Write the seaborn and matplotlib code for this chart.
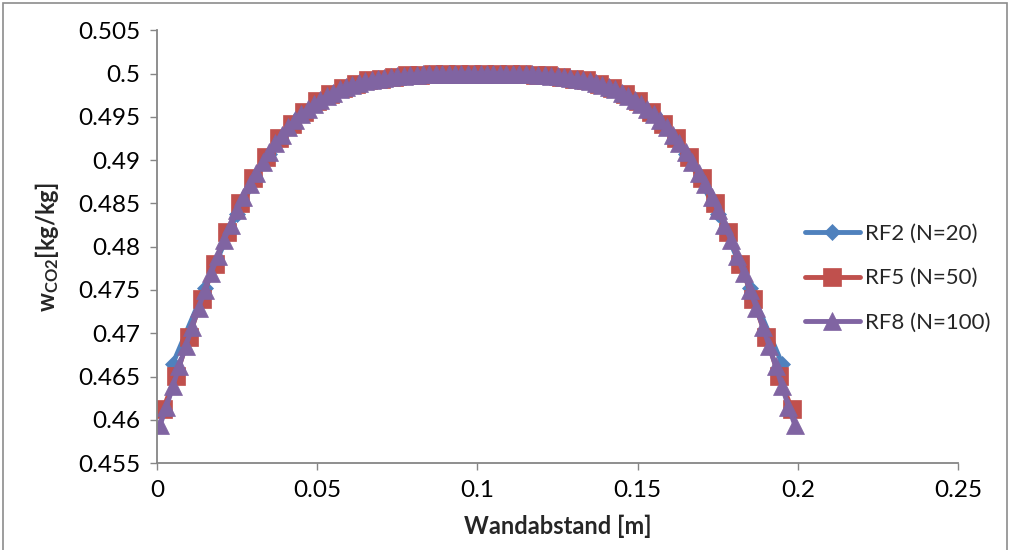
import matplotlib.pyplot as plt
import seaborn as sns
from matplotlib.patches import Rectangle

# Data: CO2 mass fraction across the wall gap, three mesh refinements

x_rf2 = [0.005, 0.015, 0.025, 0.035, 0.045, 0.055, 0.065, 0.075, 0.085, 0.095,
         0.105, 0.115, 0.125, 0.135, 0.145, 0.155, 0.165, 0.175, 0.185, 0.195]
w_rf2 = [0.4665, 0.4752, 0.4838, 0.4907, 0.4953, 0.4978, 0.4991, 0.4997, 0.4999, 0.5000,
         0.5000, 0.4999, 0.4997, 0.4991, 0.4978, 0.4953, 0.4907, 0.4838, 0.4752, 0.4665]

x_rf5 = [0.002, 0.006, 0.010, 0.014, 0.018, 0.022, 0.026, 0.030, 0.034, 0.038,
         0.042, 0.046, 0.050, 0.054, 0.058, 0.062, 0.066, 0.070, 0.074, 0.078,
         0.082, 0.086, 0.090, 0.094, 0.098, 0.102, 0.106, 0.110, 0.114, 0.118,
         0.122, 0.126, 0.130, 0.134, 0.138, 0.142, 0.146, 0.150, 0.154, 0.158,
         0.162, 0.166, 0.170, 0.174, 0.178, 0.182, 0.186, 0.190, 0.194, 0.198]
w_rf5 = [0.4613, 0.4651, 0.4696, 0.4739, 0.4780, 0.4817, 0.4850, 0.4879, 0.4904, 0.4925,
         0.4942, 0.4956, 0.4968, 0.4976, 0.4983, 0.4988, 0.4992, 0.4994, 0.4996, 0.4998,
         0.4998, 0.4999, 0.4999, 0.5000, 0.5000, 0.5000, 0.5000, 0.4999, 0.4999, 0.4998,
         0.4998, 0.4996, 0.4994, 0.4992, 0.4988, 0.4983, 0.4976, 0.4968, 0.4956, 0.4942,
         0.4925, 0.4904, 0.4879, 0.4850, 0.4817, 0.4780, 0.4739, 0.4696, 0.4651, 0.4613]

x_rf8 = [0.001, 0.003, 0.005, 0.007, 0.009, 0.011, 0.013, 0.015, 0.017, 0.019,
         0.021, 0.023, 0.025, 0.027, 0.029, 0.031, 0.033, 0.035, 0.037, 0.039,
         0.041, 0.043, 0.045, 0.047, 0.049, 0.051, 0.053, 0.055, 0.057, 0.059,
         0.061, 0.063, 0.065, 0.067, 0.069, 0.071, 0.073, 0.075, 0.077, 0.079,
         0.081, 0.083, 0.085, 0.087, 0.089, 0.091, 0.093, 0.095, 0.097, 0.099,
         0.101, 0.103, 0.105, 0.107, 0.109, 0.111, 0.113, 0.115, 0.117, 0.119,
         0.121, 0.123, 0.125, 0.127, 0.129, 0.131, 0.133, 0.135, 0.137, 0.139,
         0.141, 0.143, 0.145, 0.147, 0.149, 0.151, 0.153, 0.155, 0.157, 0.159,
         0.161, 0.163, 0.165, 0.167, 0.169, 0.171, 0.173, 0.175, 0.177, 0.179,
         0.181, 0.183, 0.185, 0.187, 0.189, 0.191, 0.193, 0.195, 0.197, 0.199]
w_rf8 = [0.4594, 0.4615, 0.4639, 0.4662, 0.4685, 0.4707, 0.4729, 0.4750, 0.4770, 0.4789,
         0.4808, 0.4825, 0.4842, 0.4857, 0.4872, 0.4885, 0.4898, 0.4909, 0.4920, 0.4929,
         0.4938, 0.4946, 0.4953, 0.4959, 0.4965, 0.4970, 0.4974, 0.4978, 0.4982, 0.4984,
         0.4987, 0.4989, 0.4991, 0.4992, 0.4994, 0.4995, 0.4996, 0.4997, 0.4997, 0.4998,
         0.4998, 0.4999, 0.4999, 0.4999, 0.4999, 0.4999, 0.5000, 0.5000, 0.5000, 0.5000,
         0.5000, 0.5000, 0.5000, 0.5000, 0.4999, 0.4999, 0.4999, 0.4999, 0.4999, 0.4998,
         0.4998, 0.4997, 0.4997, 0.4996, 0.4995, 0.4994, 0.4992, 0.4991, 0.4989, 0.4987,
         0.4984, 0.4982, 0.4978, 0.4974, 0.4970, 0.4965, 0.4959, 0.4953, 0.4946, 0.4938,
         0.4929, 0.4920, 0.4909, 0.4898, 0.4885, 0.4872, 0.4857, 0.4842, 0.4825, 0.4808,
         0.4789, 0.4770, 0.4750, 0.4729, 0.4707, 0.4685, 0.4662, 0.4639, 0.4615, 0.4594]

labels = ['RF2 (N=20)', 'RF5 (N=50)', 'RF8 (N=100)']
colors = ['#4F81BD', '#C0504D', '#8064A2']

x_ticks = [0, 0.05, 0.1, 0.15, 0.2, 0.25]
x_ticklabels = ['0', '0.05', '0.1', '0.15', '0.2', '0.25']
y_ticks = [0.455, 0.46, 0.465, 0.47, 0.475, 0.48, 0.485, 0.49, 0.495, 0.5, 0.505]
y_ticklabels = ['0.455', '0.46', '0.465', '0.47', '0.475', '0.48', '0.485', '0.49', '0.495', '0.5', '0.505']

# Style
sns.set_style('white')
plt.rcParams['font.family'] = ['Lato', 'DejaVu Sans']
plt.rcParams['mathtext.default'] = 'regular'

fig = plt.figure(figsize=(10.12, 5.5), dpi=100)
ax = fig.add_axes([0.155, 0.158, 0.792, 0.787])

# marker shape and size per series
series = [(x_rf2, w_rf2, 'D', 8), (x_rf5, w_rf5, 's', 12.5), (x_rf8, w_rf8, '^', 13)]
for (xs, ys, mk, ms), lab, col in zip(series, labels, colors):
    sns.lineplot(x=xs, y=ys, ax=ax, color=col, linewidth=3.5, marker=mk, markersize=ms,
                 markeredgecolor=col, markeredgewidth=0.5, label=lab, sort=False)

# Axes
ax.set_xlim(0, 0.25)
ax.set_ylim(0.455, 0.505)
ax.set_xticks(x_ticks)
ax.set_xticklabels(x_ticklabels)
ax.set_yticks(y_ticks)
ax.set_yticklabels(y_ticklabels)
ax.tick_params(axis='both', which='both', direction='out', length=5, width=1,
               color='#868686', labelsize=17.5, labelcolor='black', pad=7,
               bottom=True, left=True)
for side in ['top', 'right']:
    ax.spines[side].set_visible(False)
for side in ['left', 'bottom']:
    ax.spines[side].set_color('#868686')
    ax.spines[side].set_linewidth(1.3)
ax.grid(False)

ax.set_xlabel('Wandabstand [m]', fontsize=17, fontweight='bold', labelpad=10)
ax.set_ylabel(r'w$_{CO2}$[kg/kg]', fontsize=17, fontweight='bold', labelpad=12)

ax.legend(loc='center left', bbox_to_anchor=(0.795, 0.494), bbox_transform=fig.transFigure,
          frameon=False, fontsize=16, labelspacing=1.1, handlelength=2.5,
          handletextpad=0.2, borderaxespad=0, borderpad=0)

# Chart border
fig.patches.append(Rectangle((0.003, -0.02), 0.992, 1.014, transform=fig.transFigure,
                             fill=False, edgecolor='#8c8c8c', linewidth=1.2))

fig.savefig('out.png', dpi=100)
